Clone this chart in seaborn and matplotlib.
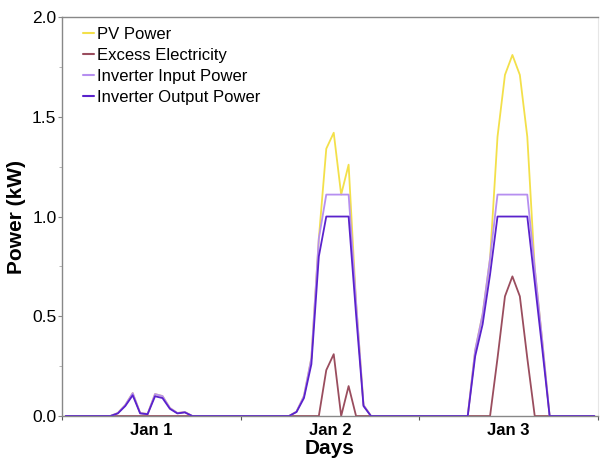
import matplotlib
matplotlib.use("Agg")
import matplotlib.pyplot as plt
import seaborn as sns
import pandas as pd
import numpy as np
from matplotlib.lines import Line2D

# ---- data (hourly, 3 days) ----
hours = list(range(72))
pv_power = [
    0, 0, 0, 0, 0, 0, 0, 0.015, 0.055, 0.115, 0.015, 0.01, 0.11, 0.10, 0.04, 0.015, 0.02, 0, 0, 0, 0, 0, 0, 0,
    0, 0, 0, 0, 0, 0, 0, 0.022, 0.10, 0.29, 0.89, 1.34, 1.42, 1.11, 1.26, 0.57, 0.055, 0, 0, 0, 0, 0, 0, 0,
    0, 0, 0, 0, 0, 0, 0, 0.33, 0.51, 0.79, 1.40, 1.71, 1.81, 1.71, 1.40, 0.74, 0.38, 0, 0, 0, 0, 0, 0, 0,
]
excess_electricity = [
    0, 0, 0, 0, 0, 0, 0, 0, 0, 0, 0, 0, 0, 0, 0, 0, 0, 0, 0, 0, 0, 0, 0, 0,
    0, 0, 0, 0, 0, 0, 0, 0, 0, 0, 0, 0.23, 0.31, 0, 0.15, 0, 0, 0, 0, 0, 0, 0, 0, 0,
    0, 0, 0, 0, 0, 0, 0, 0, 0, 0, 0.29, 0.60, 0.70, 0.60, 0.29, 0, 0, 0, 0, 0, 0, 0, 0, 0,
]
inverter_input = [
    0, 0, 0, 0, 0, 0, 0, 0.015, 0.055, 0.115, 0.015, 0.01, 0.11, 0.10, 0.04, 0.015, 0.02, 0, 0, 0, 0, 0, 0, 0,
    0, 0, 0, 0, 0, 0, 0, 0.022, 0.10, 0.29, 0.89, 1.11, 1.11, 1.11, 1.11, 0.57, 0.055, 0, 0, 0, 0, 0, 0, 0,
    0, 0, 0, 0, 0, 0, 0, 0.33, 0.51, 0.79, 1.11, 1.11, 1.11, 1.11, 1.11, 0.74, 0.38, 0, 0, 0, 0, 0, 0, 0,
]
inverter_output = [
    0, 0, 0, 0, 0, 0, 0, 0.013, 0.05, 0.104, 0.013, 0.009, 0.099, 0.09, 0.036, 0.013, 0.018, 0, 0, 0, 0, 0, 0, 0,
    0, 0, 0, 0, 0, 0, 0, 0.02, 0.09, 0.26, 0.80, 1.0, 1.0, 1.0, 1.0, 0.51, 0.05, 0, 0, 0, 0, 0, 0, 0,
    0, 0, 0, 0, 0, 0, 0, 0.30, 0.46, 0.71, 1.0, 1.0, 1.0, 1.0, 1.0, 0.67, 0.34, 0, 0, 0, 0, 0, 0, 0,
]
series_names = ["PV Power", "Excess Electricity", "Inverter Input Power", "Inverter Output Power"]
series_colors = ["#f3e04a", "#9a4d5e", "#b68ff0", "#5a22cc"]
day_labels = ["Jan 1", "Jan 2", "Jan 3"]
y_ticks = [0.0, 0.5, 1.0, 1.5, 2.0]

# ---- frame ----
t = np.array(hours) + 0.5
df = pd.concat([
    pd.DataFrame({"Hour": t, "Power": vals, "Series": name})
    for name, vals in zip(series_names, [pv_power, excess_electricity, inverter_input, inverter_output])
], ignore_index=True)

sns.set_theme(style="white")
plt.rcParams["font.family"] = ["Liberation Sans", "DejaVu Sans"]
plt.rcParams["text.color"] = "black"
plt.rcParams["axes.labelcolor"] = "black"
plt.rcParams["xtick.color"] = "black"
plt.rcParams["ytick.color"] = "black"

fig = plt.figure(figsize=(6.0, 4.61), dpi=100)
ax = fig.add_axes([0.1033, 0.0976, 0.8934, 0.8654])

sns.lineplot(data=df, x="Hour", y="Power", hue="Series", hue_order=series_names,
             palette=dict(zip(series_names, series_colors)), linewidth=1.3, ax=ax, legend=False)

ax.set_xlim(0, 72)
ax.set_ylim(0, 2.0)

# y ticks
ax.set_yticks(y_ticks)
ax.set_yticklabels([f"{v:.1f}" for v in y_ticks], fontsize=12.5)
ax.set_yticks([0.25, 0.75, 1.25, 1.75], minor=True)
ax.tick_params(axis="y", which="major", length=3, width=0.8, color="#888888", pad=1, left=True)
ax.tick_params(axis="y", which="minor", length=2, width=0.6, color="#aaaaaa", left=True)

# x ticks: day boundaries as major ticks, labels at noon
ax.set_xticks([0, 24, 48, 72])
ax.set_xticklabels([])
ax.set_xticks([12, 36, 60], minor=True)
ax.set_xticklabels(day_labels, minor=True, fontsize=12, fontweight="bold")
ax.tick_params(axis="x", which="major", length=3, width=0.8, color="#555555", bottom=True)
ax.tick_params(axis="x", which="minor", length=0, pad=5)

ax.set_xlabel("Days", fontsize=15, fontweight="bold", labelpad=1)
ax.set_ylabel("Power (kW)", fontsize=15, fontweight="bold", labelpad=4)

for side in ["left", "bottom", "top"]:
    ax.spines[side].set_color("#888888")
    ax.spines[side].set_linewidth(1.0)
ax.spines["right"].set_color("#e6e6e6")
ax.spines["right"].set_linewidth(0.8)

handles = [Line2D([0], [0], color=c, lw=1.5) for c in series_colors]
leg = ax.legend(handles, series_names, loc="upper left", frameon=False, fontsize=12,
                handlelength=0.65, handletextpad=0.2, labelspacing=0.35,
                borderaxespad=0.2, bbox_to_anchor=(0.02, 1.0))

fig.savefig("out.png", dpi=100)
